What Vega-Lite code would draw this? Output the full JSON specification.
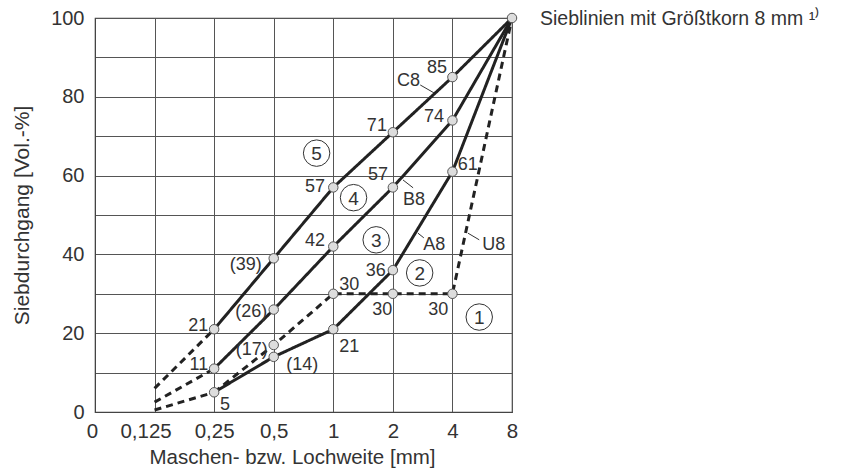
{
  "$schema": "https://vega.github.io/schema/vega-lite/v6.json",
  "width": 417,
  "height": 394,
  "autosize": "none",
  "padding": {"left": 95, "top": 18, "right": 341, "bottom": 61},
  "background": "white",
  "config": {
    "font": "Liberation Sans",
    "view": {"stroke": "#444", "strokeWidth": 1.2},
    "axis": {"labelFont": "Liberation Sans", "titleFont": "Liberation Sans", "labelColor": "#333", "titleColor": "#333", "gridColor": "#555", "gridOpacity": 1, "gridWidth": 1, "domainColor": "#444", "ticks": false, "titleFontWeight": "normal"}
  },
  "title": {
    "text": "Sieblinien mit Größtkorn 8 mm ¹⁾",
    "anchor": "start",
    "frame": "group",
    "orient": "top",
    "dx": 445,
    "dy": 36,
    "offset": 0,
    "baseline": "alphabetic",
    "fontSize": 19.5,
    "fontWeight": "normal",
    "color": "#333",
    "font": "Liberation Sans"
  },
  "datasets": {
    "lines": [
      {"curve": "C8", "part": "C8a", "style": "dashed", "x": 1, "y": 6},
      {"curve": "C8", "part": "C8a", "style": "dashed", "x": 2, "y": 21},
      {"curve": "C8", "part": "C8b", "style": "solid", "x": 2, "y": 21},
      {"curve": "C8", "part": "C8b", "style": "solid", "x": 3, "y": 39},
      {"curve": "C8", "part": "C8b", "style": "solid", "x": 4, "y": 57},
      {"curve": "C8", "part": "C8b", "style": "solid", "x": 5, "y": 71},
      {"curve": "C8", "part": "C8b", "style": "solid", "x": 6, "y": 85},
      {"curve": "C8", "part": "C8b", "style": "solid", "x": 7, "y": 100},
      {"curve": "B8", "part": "B8a", "style": "dashed", "x": 1, "y": 2.5},
      {"curve": "B8", "part": "B8a", "style": "dashed", "x": 2, "y": 11},
      {"curve": "B8", "part": "B8b", "style": "solid", "x": 2, "y": 11},
      {"curve": "B8", "part": "B8b", "style": "solid", "x": 3, "y": 26},
      {"curve": "B8", "part": "B8b", "style": "solid", "x": 4, "y": 42},
      {"curve": "B8", "part": "B8b", "style": "solid", "x": 5, "y": 57},
      {"curve": "B8", "part": "B8b", "style": "solid", "x": 6, "y": 74},
      {"curve": "B8", "part": "B8b", "style": "solid", "x": 7, "y": 100},
      {"curve": "A8", "part": "A8a", "style": "dashed", "x": 1, "y": 0.5},
      {"curve": "A8", "part": "A8a", "style": "dashed", "x": 2, "y": 5},
      {"curve": "A8", "part": "A8b", "style": "solid", "x": 2, "y": 5},
      {"curve": "A8", "part": "A8b", "style": "solid", "x": 3, "y": 14},
      {"curve": "A8", "part": "A8b", "style": "solid", "x": 4, "y": 21},
      {"curve": "A8", "part": "A8b", "style": "solid", "x": 5, "y": 36},
      {"curve": "A8", "part": "A8b", "style": "solid", "x": 6, "y": 61},
      {"curve": "A8", "part": "A8b", "style": "solid", "x": 7, "y": 100},
      {"curve": "U8", "part": "U8a", "style": "dashed", "x": 2, "y": 5},
      {"curve": "U8", "part": "U8a", "style": "dashed", "x": 3, "y": 17},
      {"curve": "U8", "part": "U8a", "style": "dashed", "x": 4, "y": 30},
      {"curve": "U8", "part": "U8a", "style": "dashed", "x": 5, "y": 30},
      {"curve": "U8", "part": "U8a", "style": "dashed", "x": 6, "y": 30},
      {"curve": "U8", "part": "U8a", "style": "dashed", "x": 7, "y": 100}
    ],
    "points": [
      {"curve": "C8", "x": 2, "y": 21}, {"curve": "C8", "x": 3, "y": 39}, {"curve": "C8", "x": 4, "y": 57}, {"curve": "C8", "x": 5, "y": 71}, {"curve": "C8", "x": 6, "y": 85}, {"curve": "C8", "x": 7, "y": 100},
      {"curve": "B8", "x": 2, "y": 11}, {"curve": "B8", "x": 3, "y": 26}, {"curve": "B8", "x": 4, "y": 42}, {"curve": "B8", "x": 5, "y": 57}, {"curve": "B8", "x": 6, "y": 74},
      {"curve": "A8", "x": 2, "y": 5}, {"curve": "A8", "x": 3, "y": 14}, {"curve": "A8", "x": 4, "y": 21}, {"curve": "A8", "x": 5, "y": 36}, {"curve": "A8", "x": 6, "y": 61},
      {"curve": "U8", "x": 3, "y": 17}, {"curve": "U8", "x": 4, "y": 30}, {"curve": "U8", "x": 5, "y": 30}, {"curve": "U8", "x": 6, "y": 30}
    ],
    "labelsRight": [
      {"t": "21", "x": 1.9, "y": 21.8},
      {"t": "11", "x": 1.9, "y": 11.9},
      {"t": "(39)", "x": 2.8, "y": 37.2},
      {"t": "(26)", "x": 2.89, "y": 25.3},
      {"t": "(17)", "x": 2.9, "y": 15.7},
      {"t": "42", "x": 3.86, "y": 43.3},
      {"t": "57", "x": 3.86, "y": 57.2},
      {"t": "36", "x": 4.88, "y": 35.8},
      {"t": "30", "x": 4.99, "y": 25.9},
      {"t": "30", "x": 5.93, "y": 25.9},
      {"t": "85", "x": 5.91, "y": 87.3},
      {"t": "74", "x": 5.86, "y": 75.0},
      {"t": "71", "x": 4.9, "y": 72.7},
      {"t": "57", "x": 4.92, "y": 60.2}
    ],
    "labelsLeft": [
      {"t": "5", "x": 2.1, "y": 1.9},
      {"t": "(14)", "x": 3.21, "y": 11.9},
      {"t": "30", "x": 4.1, "y": 32.2},
      {"t": "21", "x": 4.1, "y": 16.5},
      {"t": "61", "x": 6.09, "y": 62.7},
      {"t": "C8", "x": 5.07, "y": 84.0},
      {"t": "B8", "x": 5.17, "y": 53.9},
      {"t": "A8", "x": 5.51, "y": 42.4},
      {"t": "U8", "x": 6.5, "y": 42.4}
    ],
    "circled": [
      {"t": "1", "x": 6.45, "y": 24.1},
      {"t": "2", "x": 5.45, "y": 35.3},
      {"t": "3", "x": 4.72, "y": 43.7},
      {"t": "4", "x": 4.34, "y": 54.4},
      {"t": "5", "x": 3.72, "y": 65.7}
    ],
    "leaders": [
      {"x": 5.46, "y": 83.0, "x2": 5.69, "y2": 81.0},
      {"x": 5.17, "y": 58.9, "x2": 5.34, "y2": 56.9},
      {"x": 5.42, "y": 45.4, "x2": 5.52, "y2": 44.2},
      {"x": 6.26, "y": 45.4, "x2": 6.45, "y2": 43.7}
    ]
  },
  "encoding": {
    "x": {
      "field": "x", "type": "quantitative",
      "scale": {"domain": [0, 7], "nice": false, "zero": false},
      "axis": {
        "title": "Maschen- bzw. Lochweite [mm]",
        "titleX": 197,
        "values": [0, 1, 2, 3, 4, 5, 6, 7],
        "labelExpr": "['0','0,125','0,25','0,5','1','2','4','8'][datum.value]",
        "labelOffset": {"condition": [{"test": "datum.value == 1", "value": -9}, {"test": "datum.value == 0", "value": -3}], "value": 0},
        "labelFontSize": 20.5, "titleFontSize": 20.5, "labelPadding": 9, "titlePadding": 6,
        "labelFlush": false, "labelOverlap": false
      }
    },
    "y": {
      "field": "y", "type": "quantitative",
      "scale": {"domain": [0, 100], "nice": false},
      "axis": {
        "title": "Siebdurchgang [Vol.-%]",
        "values": [0, 10, 20, 30, 40, 50, 60, 70, 80, 90, 100],
        "labelExpr": "datum.value % 20 == 0 ? datum.label : ''",
        "labelFontSize": 20, "titleFontSize": 21, "labelPadding": 11, "titlePadding": 18,
        "labelFlush": false, "labelOverlap": false
      }
    }
  },
  "layer": [
    {
      "data": {"name": "lines"},
      "mark": {"type": "line", "color": "#222", "strokeWidth": 3, "strokeCap": "butt", "strokeJoin": "miter"},
      "encoding": {
        "detail": {"field": "part"},
        "strokeDash": {"field": "style", "type": "nominal", "scale": {"domain": ["solid", "dashed"], "range": [[1, 0], [7, 5]]}, "legend": null}
      }
    },
    {
      "data": {"name": "leaders"},
      "mark": {"type": "rule", "color": "#333", "strokeWidth": 1},
      "encoding": {"x2": {"field": "x2"}, "y2": {"field": "y2"}}
    },
    {
      "data": {"name": "points"},
      "mark": {"type": "point", "shape": "circle", "filled": true, "fill": "#ddd", "stroke": "#555", "strokeWidth": 1, "size": 90, "opacity": 1}
    },
    {
      "data": {"name": "labelsRight"},
      "mark": {"type": "text", "align": "right", "baseline": "middle", "fontSize": 18, "color": "#333"},
      "encoding": {"text": {"field": "t"}}
    },
    {
      "data": {"name": "labelsLeft"},
      "mark": {"type": "text", "align": "left", "baseline": "middle", "fontSize": 18, "color": "#333"},
      "encoding": {"text": {"field": "t"}}
    },
    {
      "data": {"name": "circled"},
      "mark": {"type": "point", "shape": "circle", "filled": false, "stroke": "#333", "strokeWidth": 1, "size": 700, "opacity": 1}
    },
    {
      "data": {"name": "circled"},
      "mark": {"type": "text", "align": "center", "baseline": "middle", "fontSize": 19, "color": "#333", "dy": 1},
      "encoding": {"text": {"field": "t"}}
    }
  ]
}
